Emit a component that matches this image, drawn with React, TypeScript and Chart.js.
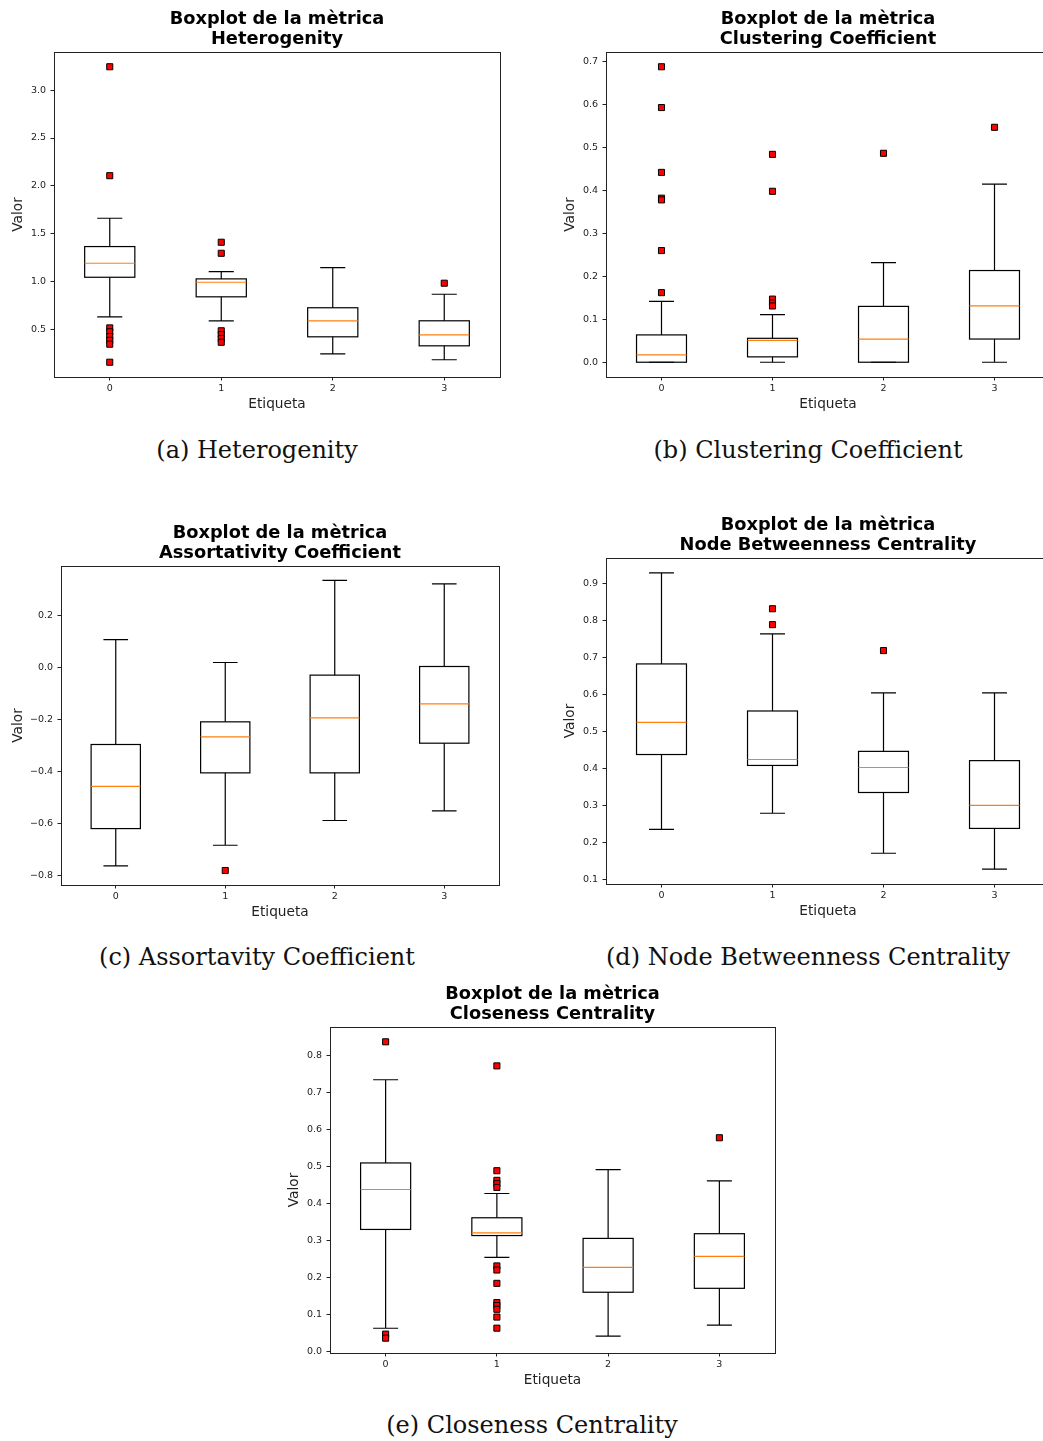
import React, { useEffect, useRef } from 'react';
import { Chart, registerables } from 'chart.js';

Chart.register(...registerables);
Chart.defaults.font.family = 'DejaVu Sans';

const categories = ['0', '1', '2', '3'];

// Heterogenity
const hetLow = [0.635, 0.594, 0.25, 0.188];
const hetQ1 = [1.048, 0.844, 0.427, 0.333];
const hetMed = [1.194, 0.996, 0.594, 0.448];
const hetQ3 = [1.368, 1.031, 0.73, 0.594];
const hetHigh = [1.663, 1.107, 1.149, 0.871];
const hetOut = [
  [3.243, 2.107, 0.52, 0.48, 0.43, 0.39, 0.35, 0.162],
  [1.413, 1.298, 0.49, 0.45, 0.41, 0.37],
  [],
  [0.986],
];
const hetTicks = [0.5, 1.0, 1.5, 2.0, 2.5, 3.0];
const hetTickLabels = ['0.5', '1.0', '1.5', '2.0', '2.5', '3.0'];

// Clustering Coefficient
const cluLow = [0, 0, 0, 0];
const cluQ1 = [0, 0.0125, 0, 0.054];
const cluMed = [0.017, 0.051, 0.054, 0.131];
const cluQ3 = [0.0636, 0.0557, 0.13, 0.2135];
const cluHigh = [0.1415, 0.111, 0.232, 0.4146];
const cluOut = [
  [0.688, 0.593, 0.442, 0.382, 0.378, 0.26, 0.162],
  [0.484, 0.398, 0.147, 0.138, 0.131],
  [0.4865],
  [0.547],
];
const cluTicks = [0.0, 0.1, 0.2, 0.3, 0.4, 0.5, 0.6, 0.7];
const cluTickLabels = ['0.0', '0.1', '0.2', '0.3', '0.4', '0.5', '0.6', '0.7'];

// Assortativity Coefficient
const assLow = [-0.762, -0.683, -0.588, -0.551];
const assQ1 = [-0.619, -0.405, -0.405, -0.291];
const assMed = [-0.457, -0.267, -0.194, -0.14];
const assQ3 = [-0.296, -0.209, -0.0296, 0.0036];
const assHigh = [0.107, 0.019, 0.334, 0.321];
const assOut = [[], [-0.78], [], []];
const assTicks = [-0.8, -0.6, -0.4, -0.2, 0.0, 0.2];
const assTickLabels = ['\u22120.8', '\u22120.6', '\u22120.4', '\u22120.2', '0.0', '0.2'];

// Node Betweenness Centrality
const betLow = [0.2365, 0.28, 0.172, 0.129];
const betQ1 = [0.4385, 0.409, 0.336, 0.239];
const betMed = [0.525, 0.425, 0.4035, 0.301];
const betQ3 = [0.683, 0.556, 0.447, 0.422];
const betHigh = [0.929, 0.764, 0.605, 0.605];
const betOut = [[], [0.832, 0.789], [0.719], []];
const betTicks = [0.1, 0.2, 0.3, 0.4, 0.5, 0.6, 0.7, 0.8, 0.9];
const betTickLabels = ['0.1', '0.2', '0.3', '0.4', '0.5', '0.6', '0.7', '0.8', '0.9'];

// Closeness Centrality
const cloLow = [0.0628, 0.254, 0.0415, 0.071];
const cloQ1 = [0.3295, 0.313, 0.16, 0.1706];
const cloMed = [0.4373, 0.3205, 0.2272, 0.257];
const cloQ3 = [0.509, 0.361, 0.3053, 0.318];
const cloHigh = [0.7336, 0.4265, 0.491, 0.4606];
const cloOut = [
  [0.836, 0.047, 0.036],
  [0.771, 0.488, 0.462, 0.453, 0.443, 0.231, 0.22, 0.184, 0.132, 0.124, 0.114, 0.093, 0.063],
  [],
  [0.577],
];
const cloTicks = [0.0, 0.1, 0.2, 0.3, 0.4, 0.5, 0.6, 0.7, 0.8];
const cloTickLabels = ['0.0', '0.1', '0.2', '0.3', '0.4', '0.5', '0.6', '0.7', '0.8'];

// Geometry shared by every panel
const BOX_HALF = 0.225;
const CAP_HALF = 0.1125;
const Y_AXIS_W = 60;
const X_AXIS_H = 40;
const TITLE_H = 52;
const RIGHT_PAD = 10;

interface PanelSpec {
  metric: string;
  caption: string;
  low: number[];
  q1: number[];
  med: number[];
  q3: number[];
  high: number[];
  out: number[][];
  ticks: number[];
  tickLabels: string[];
  area: { l: number; t: number; r: number; b: number };
  valorGap: number;
  captionX: number;
  captionY: number;
}

const panels: PanelSpec[] = [
  {
    metric: 'Heterogenity', caption: '(a) Heterogenity',
    low: hetLow, q1: hetQ1, med: hetMed, q3: hetQ3, high: hetHigh, out: hetOut,
    ticks: hetTicks, tickLabels: hetTickLabels,
    area: { l: 54, t: 52, r: 500, b: 377 }, valorGap: 36, captionX: 257, captionY: 450,
  },
  {
    metric: 'Clustering Coefficient', caption: '(b) Clustering Coefficient',
    low: cluLow, q1: cluQ1, med: cluMed, q3: cluQ3, high: cluHigh, out: cluOut,
    ticks: cluTicks, tickLabels: cluTickLabels,
    area: { l: 606, t: 52, r: 1050, b: 377 }, valorGap: 36, captionX: 808, captionY: 450,
  },
  {
    metric: 'Assortativity Coefficient', caption: '(c) Assortavity Coefficient',
    low: assLow, q1: assQ1, med: assMed, q3: assQ3, high: assHigh, out: assOut,
    ticks: assTicks, tickLabels: assTickLabels,
    area: { l: 61, t: 566, r: 499, b: 885 }, valorGap: 43, captionX: 257, captionY: 957,
  },
  {
    metric: 'Node Betweenness Centrality', caption: '(d) Node Betweenness Centrality',
    low: betLow, q1: betQ1, med: betMed, q3: betQ3, high: betHigh, out: betOut,
    ticks: betTicks, tickLabels: betTickLabels,
    area: { l: 606, t: 558, r: 1050, b: 884 }, valorGap: 36, captionX: 808, captionY: 957,
  },
  {
    metric: 'Closeness Centrality', caption: '(e) Closeness Centrality',
    low: cloLow, q1: cloQ1, med: cloMed, q3: cloQ3, high: cloHigh, out: cloOut,
    ticks: cloTicks, tickLabels: cloTickLabels,
    area: { l: 330, t: 1027, r: 775, b: 1353 }, valorGap: 36, captionX: 532, captionY: 1425,
  },
];

// y range with a 5% margin around whiskers and fliers
function paddedRange(spec: PanelSpec): [number, number] {
  const all = [...spec.low, ...spec.high, ...spec.out.flat()];
  const lo = Math.min(...all);
  const hi = Math.max(...all);
  const m = (hi - lo) * 0.05;
  return [lo - m, hi + m];
}

function boxPlotPlugin(spec: PanelSpec) {
  return {
    id: 'boxplot',
    beforeDatasetsDraw(chart: any) {
      const { ctx, chartArea: a } = chart;
      const xs = chart.scales.x;
      const ys = chart.scales.y;
      ctx.save();
      ctx.beginPath();
      ctx.rect(a.left, a.top, a.right - a.left, a.bottom - a.top);
      ctx.clip();
      ctx.lineWidth = 1.2;
      categories.forEach((_, i) => {
        const xc = xs.getPixelForValue(i);
        const x0 = xs.getPixelForValue(i - BOX_HALF);
        const x1 = xs.getPixelForValue(i + BOX_HALF);
        const c0 = xs.getPixelForValue(i - CAP_HALF);
        const c1 = xs.getPixelForValue(i + CAP_HALF);
        const yLow = ys.getPixelForValue(spec.low[i]);
        const yQ1 = ys.getPixelForValue(spec.q1[i]);
        const yMed = ys.getPixelForValue(spec.med[i]);
        const yQ3 = ys.getPixelForValue(spec.q3[i]);
        const yHigh = ys.getPixelForValue(spec.high[i]);
        ctx.strokeStyle = '#000';
        ctx.beginPath();
        ctx.moveTo(xc, yQ3);
        ctx.lineTo(xc, yHigh);
        ctx.moveTo(c0, yHigh);
        ctx.lineTo(c1, yHigh);
        ctx.moveTo(xc, yQ1);
        ctx.lineTo(xc, yLow);
        ctx.moveTo(c0, yLow);
        ctx.lineTo(c1, yLow);
        ctx.stroke();
        ctx.strokeRect(x0, yQ3, x1 - x0, yQ1 - yQ3);
        ctx.strokeStyle = '#ff7f0e';
        ctx.beginPath();
        ctx.moveTo(x0, yMed);
        ctx.lineTo(x1, yMed);
        ctx.stroke();
      });
      ctx.restore();
    },
    afterDatasetsDraw(chart: any) {
      const { ctx, chartArea: a } = chart;
      ctx.save();
      ctx.strokeStyle = '#222';
      ctx.lineWidth = 1;
      ctx.strokeRect(
        Math.round(a.left) + 0.5,
        Math.round(a.top) + 0.5,
        Math.round(a.right - a.left),
        Math.round(a.bottom - a.top)
      );
      ctx.restore();
    },
  };
}

function Panel({ spec }: { spec: PanelSpec }) {
  const ref = useRef<HTMLCanvasElement>(null);
  const { l, t, r, b } = spec.area;
  const width = r - l + Y_AXIS_W + RIGHT_PAD;
  const height = b - t + TITLE_H + X_AXIS_H;

  useEffect(() => {
    const [ymin, ymax] = paddedRange(spec);
    const fliers = spec.out.flatMap((vals, i) => vals.map((v) => ({ x: i, y: v })));
    const tickFont = { family: 'DejaVu Sans', size: 9.5 };
    const labelFont = { family: 'DejaVu Sans', size: 13.7, lineHeight: 1.2 };
    const chart = new Chart(ref.current as HTMLCanvasElement, {
      type: 'scatter',
      data: {
        datasets: [
          {
            data: fliers,
            pointStyle: 'rect',
            pointRadius: 4.3,
            pointHoverRadius: 4.3,
            backgroundColor: '#ff0000',
            borderColor: '#000',
            borderWidth: 1,
          },
        ],
      },
      options: {
        animation: false,
        responsive: false,
        maintainAspectRatio: false,
        devicePixelRatio: 1,
        events: [],
        layout: { padding: { left: 0, right: RIGHT_PAD, top: 0, bottom: 0 } },
        plugins: {
          legend: { display: false },
          tooltip: { enabled: false },
          title: {
            display: true,
            fullSize: false,
            text: ['Boxplot de la mètrica', spec.metric],
            color: '#000',
            font: { family: 'DejaVu Sans', size: 17.8, weight: 'bold', lineHeight: 1.12 },
            padding: { top: 9.6, bottom: 2.5 },
          },
        },
        scales: {
          x: {
            type: 'linear',
            min: -0.5,
            max: 3.5,
            afterBuildTicks: (s: any) => {
              s.ticks = categories.map((_, i) => ({ value: i }));
            },
            afterFit: (s: any) => {
              s.height = X_AXIS_H;
            },
            ticks: {
              autoSkip: false,
              maxRotation: 0,
              font: tickFont,
              color: '#222',
              padding: 2,
              callback: (v: any) => categories[Math.round(Number(v))],
            },
            grid: { display: true, drawOnChartArea: false, drawTicks: true, tickLength: 3.5, color: '#222' },
            border: { display: false },
            title: {
              display: true,
              text: 'Etiqueta',
              color: '#222',
              font: labelFont,
              padding: { top: 0, bottom: 4.3 },
            },
          },
          y: {
            type: 'linear',
            min: ymin,
            max: ymax,
            afterBuildTicks: (s: any) => {
              s.ticks = spec.ticks.map((v) => ({ value: v }));
            },
            afterFit: (s: any) => {
              s.width = Y_AXIS_W;
            },
            ticks: {
              autoSkip: false,
              font: tickFont,
              color: '#222',
              padding: 4.5,
              callback: (v: any) => {
                const k = spec.ticks.findIndex((tv) => Math.abs(tv - Number(v)) < 1e-9);
                return k >= 0 ? spec.tickLabels[k] : '';
              },
            },
            grid: { display: true, drawOnChartArea: false, drawTicks: true, tickLength: 3.5, color: '#222' },
            border: { display: false },
            title: {
              display: true,
              text: 'Valor',
              color: '#222',
              font: labelFont,
              padding: { top: Y_AXIS_W - spec.valorGap - 8.2, bottom: 0 },
            },
          },
        },
      } as any,
      plugins: [boxPlotPlugin(spec)],
    });
    return () => chart.destroy();
  }, [spec]);

  return (
    <canvas
      ref={ref}
      width={width}
      height={height}
      style={{ position: 'absolute', left: l - Y_AXIS_W, top: t - TITLE_H, width, height }}
    />
  );
}

function Caption({ spec }: { spec: PanelSpec }) {
  return (
    <div
      style={{
        position: 'absolute',
        left: spec.captionX - 300,
        top: spec.captionY - 17,
        width: 600,
        height: 34,
        lineHeight: '34px',
        textAlign: 'center',
        fontFamily: '"DejaVu Serif", serif',
        fontSize: 24,
        color: '#111',
        whiteSpace: 'nowrap',
      }}
    >
      {spec.caption}
    </div>
  );
}

export default function App() {
  return (
    <div
      style={{
        position: 'absolute',
        left: 0,
        top: 0,
        width: 1043,
        height: 1441,
        overflow: 'hidden',
        background: '#fff',
      }}
    >
      {panels.map((p) => (
        <Panel key={p.metric} spec={p} />
      ))}
      {panels.map((p) => (
        <Caption key={p.caption} spec={p} />
      ))}
    </div>
  );
}
